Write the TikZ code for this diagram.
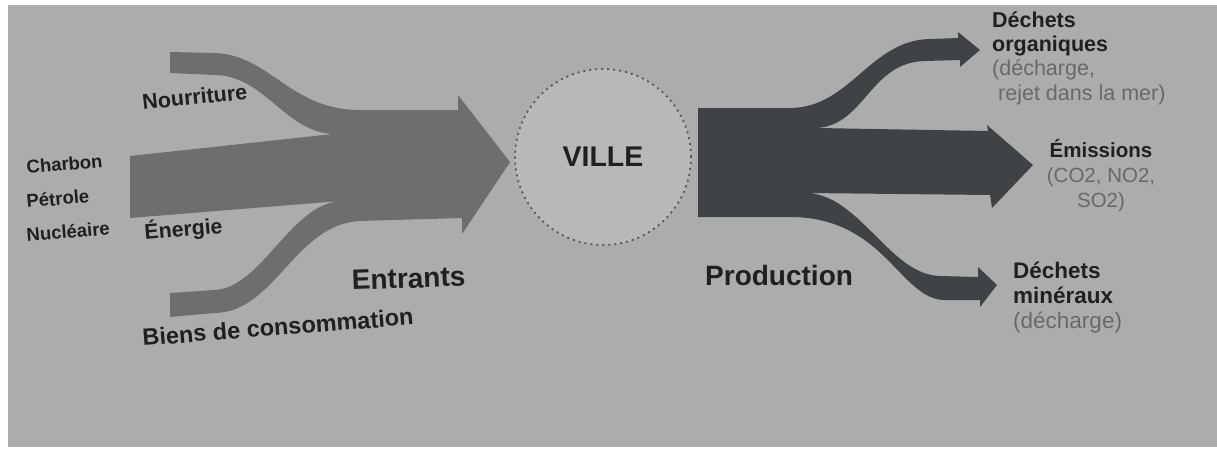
\documentclass[tikz,border=0pt]{standalone}
\usepackage{fontspec}
\setmainfont{Liberation Sans}
\usepackage{tikz}
\usetikzlibrary{positioning}
\definecolor{paper}{RGB}{171,172,172}
\definecolor{ingray}{RGB}{110,110,110}
\definecolor{outgray}{RGB}{64,67,70}
\definecolor{villefill}{RGB}{183,184,184}
\definecolor{inkdark}{RGB}{32,32,32}
\definecolor{inkgray}{RGB}{104,105,106}

\begin{document}
\begin{tikzpicture}[
        x=1pt, y=-1pt,
        lbl/.style={inner sep=0pt, text=inkdark},
        inflow/.style={fill=ingray},
        outflow/.style={fill=outgray},
    ]
        \fill[white] (0,0) rectangle (1217,453);
        \fill[paper] (8,5) rectangle (1217,447);
        \useasboundingbox (0,0) rectangle (1217,453);

        % Entrants
        \fill[inflow] (170,52) -- (215,53) .. controls (270,55) and (290,110) .. (360,110)
            -- (458,110) -- (458,95) -- (510,162) -- (462,234) -- (462,218)
            -- (360,221) .. controls (295,224) and (275,312) .. (215,313) -- (170,317)
            -- (170,293) -- (215,290) .. controls (262,287) and (290,205) .. (340,201)
            -- (130,218) -- (130,156) -- (333,134)
            .. controls (285,132) and (265,76) .. (215,75) -- (170,73) -- cycle;

        % Production
        \fill[outflow] (698,108) -- (790,108) .. controls (850,108) and (870,40) .. (930,39)
            -- (958,38) -- (958,32) -- (980,50) -- (960,67) -- (960,60)
            -- (925,61) .. controls (870,62) and (865,125) .. (817,128)
            -- (988,131) -- (987,125) -- (1033,165) -- (992,208) -- (990,195)
            -- (807,193) .. controls (860,195) and (890,275) .. (940,276)
            -- (978,277) -- (978,267) -- (997,285) -- (980,307) -- (980,300)
            -- (945,300) .. controls (900,300) and (885,217) .. (790,217)
            -- (698,217) -- cycle;

        \node[circle, minimum size=176pt, inner sep=0pt, fill=villefill, draw=black!65,
            line width=1.8pt, dash pattern=on 2pt off 4pt,
            font=\bfseries\fontsize{28.5}{30}\selectfont, text=inkdark] (ville) at (603,157) {VILLE};

        % Labels
        \node[lbl, anchor=base west, rotate=5, font=\bfseries\fontsize{18.5}{20}\selectfont] (charbon) at (27,174) {Charbon};
        \node[lbl, anchor=base west, rotate=5, font=\bfseries\fontsize{18.5}{20}\selectfont] (petrole) at (27,208) {Pétrole};
        \node[lbl, anchor=base west, rotate=5, font=\bfseries\fontsize{18.5}{20}\selectfont] (nucleaire) at (27,242) {Nucléaire};
        \node[lbl, anchor=base west, rotate=6, font=\bfseries\fontsize{21.5}{23}\selectfont] (nourriture) at (143,110) {Nourriture};
        \node[lbl, anchor=base west, rotate=5, font=\bfseries\fontsize{21.3}{23}\selectfont] (energie) at (145,240) {Énergie};
        \node[lbl, anchor=base west, rotate=4.5, font=\bfseries\fontsize{23.5}{25}\selectfont] (biens) at (143,346) {Biens de consommation};
        \node[lbl, anchor=base west, rotate=2, font=\bfseries\fontsize{28}{30}\selectfont] (entrants) at (352,290) {Entrants};
        \node[lbl, anchor=base west, font=\bfseries\fontsize{28}{30}\selectfont] (production) at (705,285) {Production};

        % multi-line labels: base is the last line
        \node[lbl, anchor=base west, align=left, font=\bfseries\fontsize{21.5}{24.3}\selectfont] (orga) at (992,100)
            {Déchets\\organiques\\{\mdseries\color{inkgray}(décharge,}\\{\mdseries\color{inkgray}\ rejet dans la mer)}};
        \node[lbl, anchor=base, align=center, font=\bfseries\fontsize{20.5}{25}\selectfont] (emis) at (1101,207)
            {Émissions\\{\mdseries\color{inkgray}(CO2, NO2,}\\{\mdseries\color{inkgray}SO2)}};
        \node[lbl, anchor=base west, align=left, font=\bfseries\fontsize{22.5}{25}\selectfont] (miner) at (1013,328)
            {Déchets\\minéraux\\{\mdseries\color{inkgray}(décharge)}};
    \end{tikzpicture}
\end{document}
